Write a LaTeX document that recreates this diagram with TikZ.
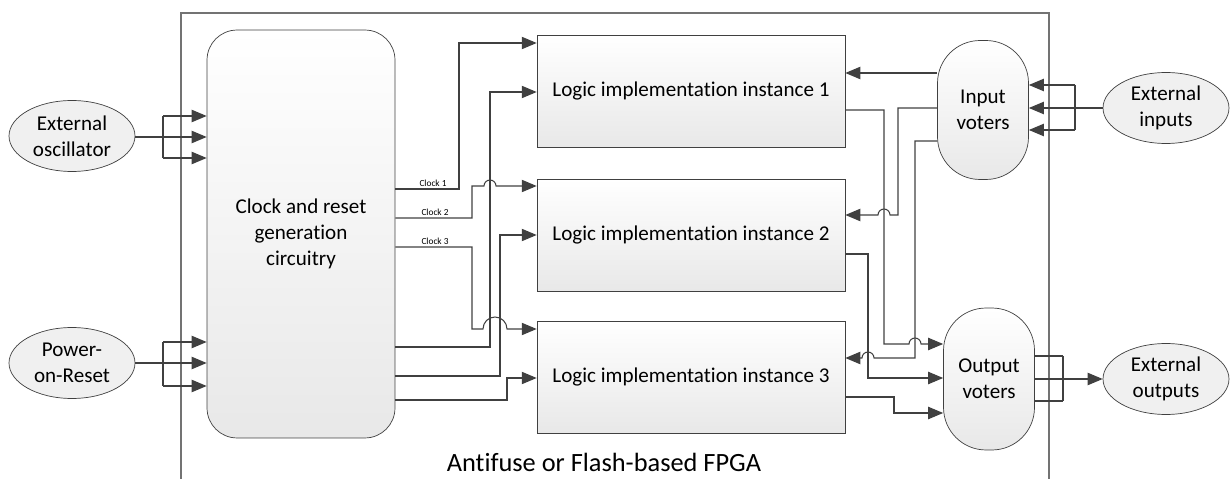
\documentclass[tikz,border=0pt]{standalone}
\usepackage{fontspec}
\setmainfont[Ligatures={NoCommon,NoContextual,NoRare},Contextuals=NoAlternate]{Carlito}
\usetikzlibrary{arrows.meta,shapes.geometric,positioning}
\definecolor{wirecol}{HTML}{404040}
\tikzset{block/.style={rectangle,draw=wirecol,top color=white,bottom color=black!9,inner sep=0pt,
                minimum width=6.16cm,minimum height=2.24cm,font=\fontsize{12}{14.7}\selectfont},
         clock block/.style={block,rounded corners=0.6cm,minimum width=3.76cm,minimum height=8.16cm,align=center},
         voter/.style={block,rounded corners=0.85cm,minimum width=1.82cm,align=center},
         ext node/.style={ellipse,draw=wirecol,fill=black!6,minimum width=2.52cm,minimum height=1.42cm,
                inner sep=0pt,align=center,font=\fontsize{12}{14.7}\selectfont},
         wire/.style={draw=wirecol,line width=0.6pt},
         arr/.style={wire,-{Triangle[length=8.5pt,width=7pt]}},
         clock label/.style={font=\fontsize{5.3}{6}\selectfont,inner sep=1pt,anchor=south}
}

\begin{document}
\begin{tikzpicture}[x=0.02cm,y=-0.02cm]
\useasboundingbox (0,0) rectangle (1230,479);
% FPGA frame, open at the bottom
\draw[draw=black!55,line width=0.6pt] (181,479) -- (181,13) -- (1049,13) -- (1049,479);
\node[font=\fontsize{15}{18}\selectfont] (fpga) at (604,462) {Antifuse or Flash-based FPGA};

\node[clock block] (clk) at (301,234) {Clock and reset\\generation\\circuitry};
\node[block] (lg1) at (691,91) {Logic implementation instance 1};
\node[block] (lg2) at (691,235) {Logic implementation instance 2};
\node[block] (lg3) at (691,377) {Logic implementation instance 3};
\node[voter,minimum height=2.78cm] (inv) at (983,110) {Input\\voters};
\node[voter,minimum height=2.84cm] (outv) at (989,379) {Output\\voters};

\node[ext node] (osc) at (72,136) {External\\oscillator};
\node[ext node] (por) at (72,363) {Power-\\on-Reset};
\node[ext node] (ein) at (1166,108) {External\\inputs};
\node[ext node] (eout) at (1166,379) {External\\outputs};

% external inputs of the clock block
\coordinate (oscbus) at (163,137);
\coordinate (porbus) at (163,363);
\draw[wire] (osc.east |- oscbus) -- (oscbus);
\draw[wire] (por.east) -- (porbus);
\draw[wire] (163,116) -- (163,158);
\draw[wire] (163,342) -- (163,386);
\foreach \y in {116,137,158}
    \draw[arr] (oscbus |- 0,\y) -- (clk.west |- 0,\y);
\foreach \y in {342,363,386}
    \draw[arr] (porbus |- 0,\y) -- (clk.west |- 0,\y);

% clocks
\draw[arr] (clk.east |- 0,189) -- (459,189) -- (459,43) -- (lg1.west |- 0,43);
\draw[arr] (clk.east |- 0,218) -- (472,218) -- (472,186) -- (484,186) arc (180:360:6) -- (lg2.west |- 0,186);
\draw[arr] (clk.east |- 0,247) -- (472,247) -- (472,329) -- (483,329) arc (180:360:12) -- (lg3.west |- 0,329);
\node[clock label] (c1) at (433,189) {Clock 1};
\node[clock label] (c2) at (435,218) {Clock 2};
\node[clock label] (c3) at (435,247) {Clock 3};

% resets
\draw[arr] (clk.east |- 0,347) -- (490,347) -- (490,92) -- (lg1.west |- 0,92);
\draw[arr] (clk.east |- 0,376) -- (500,376) -- (500,235) -- (lg2.west |- 0,235);
\draw[arr] (clk.east |- 0,400) -- (507,400) -- (507,378) -- (lg3.west |- 0,378);

% input voters
\coordinate (inbus) at (1075,108);
\draw[wire] (ein.west) -- (inbus);
\draw[wire] (1075,85) -- (1075,130);
\foreach \y in {85,108,130}
    \draw[arr] (inbus |- 0,\y) -- (inv.east |- 0,\y);
\draw[arr] (inv.west |- 0,73) -- (lg1.east |- 0,73);
\draw[arr] (inv.west |- 0,108) -- (898,108) -- (898,215) -- (890,215) arc (0:-180:6) -- (lg2.east |- 0,215);
\draw[arr] (inv.west |- 0,141) -- (915,141) -- (915,358) -- (874,358) arc (0:-180:6) -- (lg3.east |- 0,358);

% output voters
\draw[arr] (lg1.east |- 0,110) -- (884,110) -- (884,344) -- (909,344) arc (180:360:6) -- (outv.west |- 0,344);
\draw[arr] (lg2.east |- 0,254) -- (868,254) -- (868,378) -- (outv.west |- 0,378);
\draw[arr] (lg3.east |- 0,397) -- (894,397) -- (894,413) -- (outv.west |- 0,413);
\coordinate (outbus) at (1063,379);
\foreach \y in {356,379,401}
    \draw[wire] (outv.east |- 0,\y) -- (outbus |- 0,\y);
\draw[wire] (1063,356) -- (1063,401);
\draw[arr] (outbus) -- (eout.west);
\end{tikzpicture}
\end{document}
